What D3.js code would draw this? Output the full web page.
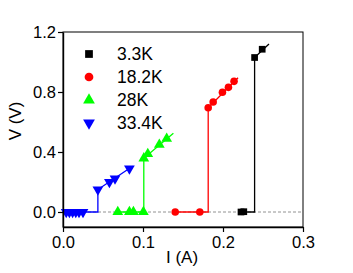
<!DOCTYPE html>
<html>
<head>
<meta charset="utf-8">
<script src="https://cdn.jsdelivr.net/npm/d3@7"></script>
<style>
  body { margin: 0; background: #fff; }
  svg text { font-family: "Liberation Sans", Arial, sans-serif; }
</style>
</head>
<body>
<div id="chart"></div>
<script>
// temperatures / series
var labels = ["3.3K", "18.2K", "28K", "33.4K"];
var colors = ["#000000", "#ff0000", "#00ff00", "#0000ff"];
var symbols = [d3.symbolSquare, d3.symbolCircle, d3.symbolTriangle, "down"];

// measured points [I (A), V (V)]
var pts33 = [[0.2225, 0], [0.226, 0.002], [0.2395, 1.03], [0.249, 1.085]];
var pts182 = [[0.1403, 0], [0.171, 0], [0.1815, 0.695], [0.1877, 0.733], [0.1993, 0.798], [0.2068, 0.831], [0.2138, 0.871]];
var pts28 = [[0.0685, 0], [0.083, 0], [0.088, 0], [0.1005, 0], [0.101, 0.358], [0.106, 0.387], [0.1204, 0.449], [0.1296, 0.489]];
var pts334 = [[0.004, 0], [0.008, 0], [0.012, 0], [0.016, 0], [0.02, 0], [0.025, 0], [0.0436, 0.15], [0.058, 0.2], [0.065, 0.223], [0.083, 0.29]];

// connecting traces (jump + fit line)
var line33 = [[0.2225, 0], [0.2395, 0], [0.2395, 1.03], [0.2575, 1.12]];
var line182 = [[0.1403, 0], [0.1815, 0], [0.1815, 0.695], [0.2188, 0.895]];
var line28 = [[0.0685, 0], [0.101, 0], [0.101, 0.358], [0.138, 0.525]];
var line334 = [[0, 0], [0.0436, 0], [0.0436, 0.15], [0.087, 0.305]];

var xTicks = [0, 0.1, 0.2, 0.3];
var yTicks = [0, 0.4, 0.8, 1.2];

var allPts = [pts33, pts182, pts28, pts334];
var allLines = [line33, line182, line28, line334];

var svgWidth = 353, svgHeight = 273;
var margin = {top: 32, right: 50, bottom: 46, left: 63};
var width = svgWidth - margin.left - margin.right,
    height = svgHeight - margin.top - margin.bottom;

var svg = d3.select("#chart")
  .append("svg")
    .attr("width", svgWidth)
    .attr("height", svgHeight)
  .append("g")
    .attr("transform", `translate(${margin.left},${margin.top})`);

var x = d3.scaleLinear().domain([0, 0.3]).range([0, 240]);
var y = d3.scaleLinear().domain([-0.1, 1.2]).range([195, 0]);

// zero reference line
svg.append("line")
  .attr("x1", x(0)).attr("x2", x(0.3))
  .attr("y1", y(0)).attr("y2", y(0))
  .attr("stroke", "#777").attr("stroke-width", 0.8)
  .attr("stroke-dasharray", "3,2");

// frame
svg.append("rect")
  .attr("x", 0).attr("y", 0)
  .attr("width", x(0.3)).attr("height", y(-0.1))
  .attr("fill", "none").attr("stroke", "#000").attr("stroke-width", 1);

function symbolPath(s, size) {
  if (s === "down") {
    return d3.symbol().type(d3.symbolTriangle).size(size)();
  }
  return d3.symbol().type(s).size(size)();
}
function symbolRot(s) { return s === "down" ? " rotate(180)" : ""; }
var sizes = [45, 45, 50, 50];

var line = d3.line().x(d => x(d[0])).y(d => y(d[1]));

allLines.forEach(function(l, i) {
  svg.append("path")
    .datum(l)
    .attr("fill", "none")
    .attr("stroke", colors[i])
    .attr("stroke-width", 1.3)
    .attr("d", line);
});

allPts.forEach(function(p, i) {
  svg.selectAll(".pt" + i)
    .data(p)
    .enter().append("path")
      .attr("class", "pt" + i)
      .attr("d", symbolPath(symbols[i], sizes[i]))
      .attr("fill", colors[i])
      .attr("transform", d => `translate(${x(d[0])},${y(d[1])})` + symbolRot(symbols[i]));
});

// axes
var xAxis = svg.append("g")
  .attr("transform", `translate(0,${y(-0.1)})`)
  .call(d3.axisBottom(x).tickValues(xTicks).tickFormat(d3.format(".1f")).tickSize(5).tickSizeOuter(0));
var yAxis = svg.append("g")
  .call(d3.axisLeft(y).tickValues(yTicks).tickFormat(d3.format(".1f")).tickSize(5).tickSizeOuter(0));

[xAxis, yAxis].forEach(function(a) {
  a.select(".domain").attr("stroke-width", 1.4);
  a.selectAll("line").attr("stroke-width", 1.2);
  a.selectAll("text").attr("font-size", 16.5).attr("fill", "#000")
    .style("font-family", "'Liberation Sans', Arial, sans-serif");
});
xAxis.selectAll("text").attr("dy", "0.95em").attr("y", 5);
yAxis.selectAll("text").attr("x", -7);

// axis titles
svg.append("text")
  .attr("x", 119).attr("y", 231)
  .attr("text-anchor", "middle")
  .attr("font-size", 17)
  .text("I (A)");
svg.append("text")
  .attr("transform", `translate(-42,${121 - margin.top}) rotate(-90)`)
  .attr("text-anchor", "middle")
  .attr("font-size", 17)
  .text("V (V)");

// legend
var legend = svg.append("g").attr("transform", "translate(26,22)");
labels.forEach(function(lab, i) {
  var g = legend.append("g").attr("transform", `translate(0,${i * 23})`);
  g.append("path")
    .attr("d", symbolPath(symbols[i], 60))
    .attr("fill", colors[i])
    .attr("transform", "translate(0,0)" + symbolRot(symbols[i]));
  g.append("text")
    .attr("x", 28).attr("y", 0).attr("dy", "0.35em")
    .attr("font-size", 17.5)
    .text(lab);
});
</script>
</body>
</html>
